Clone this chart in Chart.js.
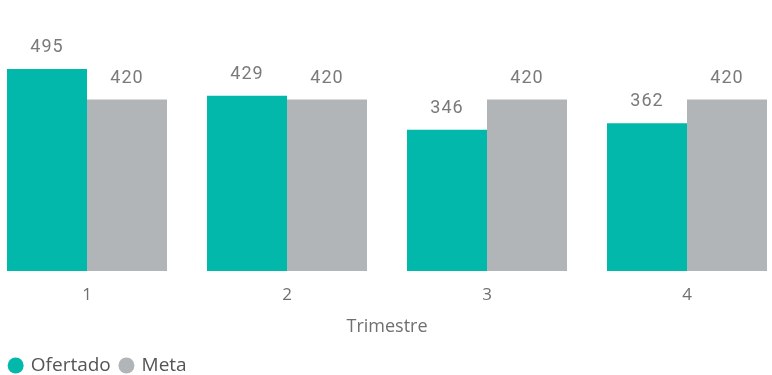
<!DOCTYPE html>
<html>
<head>
<meta charset="utf-8">
<script src="https://cdn.jsdelivr.net/npm/chart.js@4"></script>
<style>
  html, body { margin: 0; padding: 0; background: #fff; }
  #wrap { position: relative; width: 772px; height: 375px; }
</style>
</head>
<body>
<div id="wrap"><canvas id="trimChart"></canvas></div>
<script>
const trimestres = ['1', '2', '3', '4'];
const ofertado = [495, 429, 346, 362];
const meta = [420, 420, 420, 420];
const seriesNames = ['Ofertado', 'Meta'];

document.addEventListener('DOMContentLoaded', () => {
    const ctx = document.getElementById('trimChart').getContext('2d');

    // valeurs au-dessus des barres
    const valueLabels = {
        id: 'valueLabels',
        afterDatasetsDraw(chart) {
            const c = chart.ctx;
            c.save();
            c.font = '18px Roboto, "DejaVu Sans", sans-serif';
            c.letterSpacing = '1px';
            c.fillStyle = '#7a7a7a';
            c.textAlign = 'center';
            c.textBaseline = 'alphabetic';
            chart.data.datasets.forEach((ds, i) => {
                chart.getDatasetMeta(i).data.forEach((bar, j) => {
                    c.fillText(String(ds.data[j]), bar.x, bar.y - 17);
                });
            });
            c.restore();
        }
    };

    new Chart(ctx, {
        type: 'bar',
        data: {
            labels: trimestres,
            datasets: [
                {
                    label: seriesNames[0],
                    data: ofertado,
                    backgroundColor: '#01B8AA',
                    clip: false
                },
                {
                    label: seriesNames[1],
                    data: meta,
                    backgroundColor: '#B2B5B7',
                    clip: false
                }
            ]
        },
        options: {
            responsive: true,
            maintainAspectRatio: false,
            animation: false,
            layout: { padding: { top: 26, bottom: -10, left: 0, right: 0 } },
            datasets: {
                bar: { categoryPercentage: 0.8, barPercentage: 1.0 }
            },
            plugins: {
                tooltip: { enabled: false },
                legend: {
                    display: true,
                    position: 'bottom',
                    align: 'start',
                    labels: {
                        usePointStyle: true,
                        pointStyle: 'circle',
                        boxWidth: 11.3,
                        boxHeight: 11.3,
                        padding: 10,
                        color: '#555',
                        font: { family: '"Open Sans", sans-serif', size: 19 }
                    }
                }
            },
            scales: {
                x: {
                    offset: false,
                    grid: { display: false, drawTicks: false },
                    border: { display: false },
                    ticks: {
                        padding: 14,
                        color: '#6f6f6f',
                        font: { family: '"Open Sans", sans-serif', size: 17 }
                    },
                    title: {
                        display: true,
                        text: 'Trimestre',
                        color: '#6f6f6f',
                        padding: { top: -3, bottom: 8 },
                        font: { family: '"Open Sans", sans-serif', size: 18 }
                    }
                },
                y: {
                    position: 'left',
                    min: 0,
                    max: 600,
                    grid: { display: false },
                    border: { display: false },
                    ticks: { display: false },
                    afterFit: (scale) => { scale.width = 87; }
                },
                y2: {
                    position: 'right',
                    min: 0,
                    max: 600,
                    grid: { display: false },
                    border: { display: false },
                    ticks: { display: false },
                    afterFit: (scale) => { scale.width = 85; }
                }
            }
        },
        plugins: [valueLabels]
    });
});
</script>
</body>
</html>
